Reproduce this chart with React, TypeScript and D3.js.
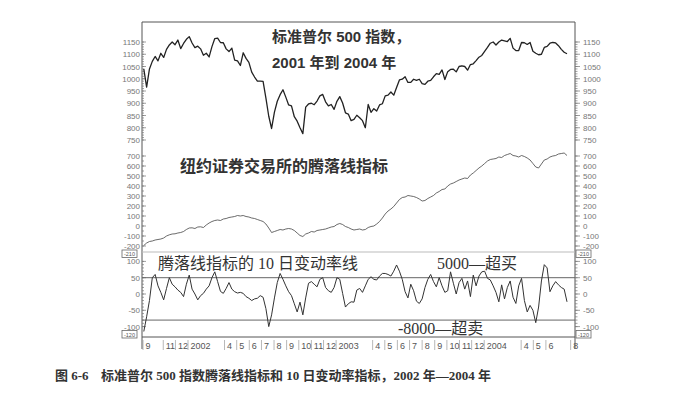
import * as d3 from 'd3';
import { useEffect, useRef } from 'react';

// weekly readings, first week ending 14 Sep 2001
const firstWeek = new Date(2001, 8, 14);

const spxValues = [
  1040, 966, 1040, 1071, 1091, 1073, 1104, 1087, 1120, 1138,
  1150, 1139, 1158, 1123, 1144, 1161, 1172, 1146, 1127, 1133,
  1122, 1096, 1104, 1089, 1131, 1164, 1166, 1148, 1147, 1122,
  1111, 1125, 1076, 1073, 1054, 1106, 1083, 1067, 1027, 1007,
  990, 990, 989, 921, 847, 797, 864, 908, 935, 955,
  925, 893, 889, 845, 827, 800, 776, 884, 897, 900,
  894, 909, 930, 936, 906, 889, 895, 875, 908, 927,
  901, 861, 856, 829, 834, 851, 841, 829, 800, 895,
  863, 878, 868, 893, 898, 930, 933, 946, 933, 964,
  995, 998, 1008, 985, 985, 998, 993, 998, 980, 977,
  990, 993, 1008, 1021, 1018, 1036, 997, 1029, 1038, 1039,
  1028, 1050, 1053, 1050, 1035, 1058, 1061, 1074, 1088, 1095,
  1112, 1128, 1145, 1150, 1138, 1150, 1158, 1155, 1152, 1165,
  1125, 1115, 1115, 1148, 1147, 1140, 1148, 1112, 1104, 1098,
  1100, 1128, 1132, 1145, 1148, 1146, 1135, 1120, 1108, 1102,
];

const adValues = [
  -195, -170, -155, -150, -140, -135, -130, -120, -100, -88,
  -80, -78, -70, -65, -55, -35, -20, -18, -25, -10,
  -8, -15, 10, 30, 45, 55, 60, 55, 70, 75,
  85, 90, 95, 105, 100, 105, 95, 90, 80, 75,
  65, 55, 45, 20, -20, -65, -55, -45, -35, -40,
  -30, -25, -30, -45, -70, -95, -105, -80, -70, -55,
  -60, -45, -40, -35, -30, -20, -10, -5, 15, 25,
  15, -5, -15, -30, -40, -35, -30, -40, -35, -15,
  -5, 0, 20, 45, 80, 120, 150, 170, 195, 230,
  265, 285, 290, 305, 300, 295, 285, 270, 250, 255,
  275, 290, 305, 330, 345, 365, 370, 400, 420, 430,
  445, 460, 470, 480, 475, 510, 530, 555, 580, 600,
  625, 650, 665, 670, 675, 690, 685, 705, 715, 725,
  705, 700, 690, 705, 695, 680, 660, 625, 590, 580,
  620, 660, 670, 690, 700, 705, 720, 725, 730, 705,
];

const rocValues = [
  -115, -70, -20, 50, 60, 25, 5, -18, 17, 50,
  30, 22, 12, 5, -8, 30, 58, 15, 0, -18,
  -5, 2, 15, 25, 50, 68, 38, 8, 2, 17,
  35, 15, 7, 3, 5, 2, -8, -13, -20, -15,
  -13, -5, -10, -45, -100, -64, -12, 35, 63, 45,
  25, 7, -5, -30, -55, -25, -64, -12, 33, 38,
  30, 22, 45, 50, 20, 10, 5, 20, 50, 45,
  2, -40, -30, -24, -25, 12, 17, 5, 25, 45,
  53, 45, 43, 55, 63, 63, 60, 55, 70, 89,
  70, 45, 7, -12, 30, 10, -22, -29, -15, 20,
  45, 60, 38, 22, 50, 25, 5, 10, 68, 33,
  0, 35, 48, 15, 40, -8, 58, 25, 55, 68,
  70, 48, 43, 25, 5, -24, 28, -15, 20, 40,
  -10, -29, 25, 48, -20, -55, -35, -50, -88, -40,
  40, 90, 80, 7, 25, 38, 28, 20, 15, -24,
];

const spxTicks = [1150, 1100, 1050, 1000, 950, 900, 850, 800, 750];
const adTicks = [700, 600, 500, 400, 300, 200, 100, 0, -100, -200];
const rocTicks = [100, 50, 0, -50, -100];
const rocLevels = [50, -80];

// Sep 2001 .. Aug 2004
const monthLabels = [
  '9', '', '11', '12',
  '2002', '', '', '4', '5', '6', '7', '8', '9', '10', '11', '12',
  '2003', '', '', '4', '5', '6', '7', '8', '9', '10', '11', '12',
  '2004', '', '', '4', '5', '6', '', '8',
];

const sans = "'Liberation Sans', 'Noto Sans CJK SC', sans-serif";
const serif = "'Liberation Serif', 'Noto Sans CJK SC', serif";

export default function App() {
  const ref = useRef<SVGSVGElement | null>(null);

  useEffect(() => {
    if (!ref.current) return;
    const svg = d3.select(ref.current);
    svg.selectAll('*').remove();

    const left = 142;
    const right = 575;
    const top = 22;
    const bottom = 337;

    const weeks = spxValues.map((_, i) => d3.timeWeek.offset(firstWeek, i));
    const x = d3
      .scaleTime()
      .domain([new Date(2001, 8, 17), new Date(2004, 6, 23)])
      .range([145, 567]);
    const ySpx = d3.scaleLinear().domain([750, 1150]).range([140, 42]);
    const yAd = d3.scaleLinear().domain([-200, 700]).range([246, 156]);
    const yRoc = d3.scaleLinear().domain([-100, 100]).range([326.6, 261.4]);

    svg.append('rect').attr('width', 689).attr('height', 400).attr('fill', '#fff');

    // frame
    const frame = svg.append('g').attr('stroke', '#555').attr('stroke-width', 1).attr('fill', 'none');
    frame.append('line').attr('x1', left).attr('x2', right).attr('y1', top).attr('y2', top);
    frame.append('line').attr('x1', left).attr('x2', right).attr('y1', bottom).attr('y2', bottom);
    frame.append('line').attr('x1', left).attr('x2', left).attr('y1', top).attr('y2', bottom + 12);
    frame.append('line').attr('x1', right).attr('x2', right).attr('y1', top).attr('y2', bottom + 12);
    frame
      .append('line')
      .attr('x1', left)
      .attr('x2', right)
      .attr('y1', 252)
      .attr('y2', 252)
      .attr('stroke', '#bbb');

    // y axes on both sides
    const drawAxis = (
      y: d3.ScaleLinear<number, number>,
      ticks: number[],
      minorStep: number,
    ) => {
      const [lo, hi] = d3.extent(ticks) as [number, number];
      const minor = d3.range(lo, hi + 0.001, minorStep);
      const g = svg.append('g').attr('stroke', '#777').attr('stroke-width', 0.7);
      minor.forEach((v) => {
        g.append('line').attr('x1', left).attr('x2', left + 2).attr('y1', y(v)).attr('y2', y(v));
        g.append('line').attr('x1', right).attr('x2', right + 2.5).attr('y1', y(v)).attr('y2', y(v));
      });
      ticks.forEach((v) => {
        g.append('line').attr('x1', left).attr('x2', left + 4).attr('y1', y(v)).attr('y2', y(v));
        g.append('line').attr('x1', right).attr('x2', right + 5).attr('y1', y(v)).attr('y2', y(v));
      });
      const t = svg
        .append('g')
        .attr('font-family', sans)
        .attr('font-size', 8)
        .attr('fill', '#777');
      t.selectAll('text.l')
        .data(ticks)
        .join('text')
        .attr('x', left - 2)
        .attr('y', (d) => y(d) + 3)
        .attr('text-anchor', 'end')
        .text((d) => d);
      t.selectAll('text.r')
        .data(ticks)
        .join('text')
        .attr('class', 'r')
        .attr('x', right + 8)
        .attr('y', (d) => y(d) + 3)
        .text((d) => d);
    };
    drawAxis(ySpx, spxTicks, 10);
    drawAxis(yAd, adTicks, 50);
    drawAxis(yRoc, rocTicks, 10);

    // small value boxes
    const boxes = [
      { x: 122, y: 250, t: '-210' },
      { x: 122, y: 330.5, t: '-120' },
      { x: 576, y: 250, t: '-210' },
      { x: 576, y: 330.5, t: '-120' },
    ];
    const bg = svg.append('g');
    boxes.forEach((b) => {
      bg.append('rect')
        .attr('x', b.x)
        .attr('y', b.y)
        .attr('width', 15)
        .attr('height', 7.5)
        .attr('fill', '#fff')
        .attr('stroke', '#666')
        .attr('stroke-width', 0.8);
      bg.append('text')
        .attr('x', b.x + 7.5)
        .attr('y', b.y + 6)
        .attr('text-anchor', 'middle')
        .attr('font-family', sans)
        .attr('font-size', 5.5)
        .attr('fill', '#555')
        .text(b.t);
    });

    // ROC reference lines
    svg
      .append('g')
      .selectAll('line')
      .data(rocLevels)
      .join('line')
      .attr('x1', left)
      .attr('x2', right)
      .attr('y1', (d) => yRoc(d))
      .attr('y2', (d) => yRoc(d))
      .attr('stroke', '#666')
      .attr('stroke-width', 1);

    // series
    const series = [
      { values: spxValues, y: ySpx, w: 1.3, c: '#222' },
      { values: adValues, y: yAd, w: 0.8, c: '#444' },
      { values: rocValues, y: yRoc, w: 1, c: '#333' },
    ];
    series.forEach((s) => {
      const line = d3
        .line<number>()
        .x((_, i) => x(weeks[i]))
        .y((d) => s.y(d));
      svg
        .append('path')
        .attr('d', line(s.values))
        .attr('fill', 'none')
        .attr('stroke', s.c)
        .attr('stroke-width', s.w)
        .attr('stroke-linejoin', 'round');
    });

    // month axis
    const months = d3.timeMonth.range(new Date(2001, 8, 1), new Date(2004, 7, 2));
    const xa = svg.append('g');
    months.forEach((m, i) => {
      const label = monthLabels[i];
      if (!label) return;
      const tx = Math.max(left + 1, x(m));
      xa.append('line')
        .attr('x1', tx)
        .attr('x2', tx)
        .attr('y1', 340)
        .attr('y2', 350)
        .attr('stroke', '#999')
        .attr('stroke-width', 0.7);
      xa.append('text')
        .attr('x', tx + 2.5)
        .attr('y', 349)
        .attr('font-family', sans)
        .attr('font-size', 9)
        .attr('fill', '#555')
        .text(label);
    });

    // annotations
    const notes = [
      { t: '标准普尔 500 指数，', x: 272, y: 42, f: sans, s: 15, w: 'bold' },
      { t: '2001 年到 2004 年', x: 272, y: 68, f: sans, s: 15, w: 'bold' },
      { t: '纽约证券交易所的腾落线指标', x: 180, y: 172, f: sans, s: 16, w: 'bold' },
      { t: '腾落线指标的 10 日变动率线', x: 158, y: 269, f: serif, s: 16, w: 'normal' },
      { t: '5000—超买', x: 437, y: 269, f: serif, s: 16, w: 'normal' },
      { t: '-8000—超卖', x: 398, y: 334, f: serif, s: 16, w: 'normal' },
    ];
    svg
      .append('g')
      .selectAll('text')
      .data(notes)
      .join('text')
      .attr('x', (d) => d.x)
      .attr('y', (d) => d.y)
      .attr('font-family', (d) => d.f)
      .attr('font-size', (d) => d.s)
      .attr('font-weight', (d) => d.w)
      .attr('fill', '#333')
      .text((d) => d.t);

    // caption
    const cap = svg
      .append('g')
      .attr('font-family', serif)
      .attr('font-size', 13)
      .attr('font-weight', 'bold')
      .attr('fill', '#333');
    cap.append('text').attr('x', 55).attr('y', 380).text('图 6-6');
    cap
      .append('text')
      .attr('x', 101)
      .attr('y', 380)
      .text('标准普尔 500 指数腾落线指标和 10 日变动率指标，2002 年—2004 年');
  }, []);

  return (
    <svg
      ref={ref}
      width={689}
      height={400}
      style={{ position: 'absolute', left: 0, top: 0, display: 'block' }}
    />
  );
}
